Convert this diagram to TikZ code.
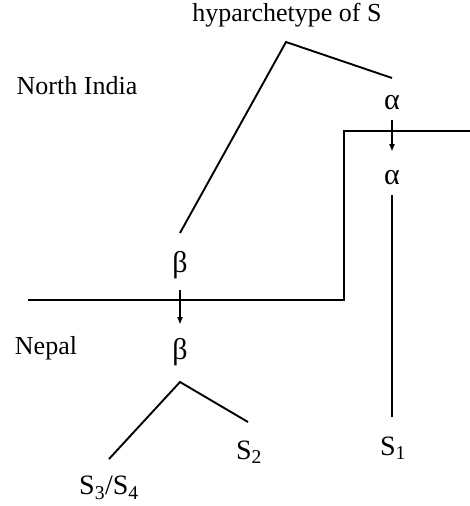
\documentclass[tikz,border=0pt]{standalone}
\usepackage{fontspec}
\setmainfont{Liberation Serif}
\usetikzlibrary{arrows.meta}
\begin{document}
\begin{tikzpicture}[x=1pt,y=-1pt,
  lbl/.style={font=\fontsize{26}{30}\selectfont, inner sep=0pt, anchor=center},
  greek/.style={font=\fontsize{30}{34}\selectfont, inner sep=0pt, anchor=center},
  wit/.style={font=\fontsize{28}{32}\selectfont, inner sep=0pt, anchor=center},
  branch/.style={line width=1.9pt},
  border/.style={line width=2.9pt},
  mig/.style={line width=1.7pt, -{Latex[length=8pt,width=6pt]}}]
\useasboundingbox (0,0) rectangle (470,506);
% labels
\node[lbl] (hyp) at (287,15) {hyparchetype of S};
\node[lbl] (ni) at (77,86) {North India};
\node[lbl] (np) at (46,348) {Nepal};
\node[greek] (a1) at (392,103) {α};
\node[greek] (a2) at (392,178) {α};
\node[greek] (b1) at (180,265) {β};
\node[greek] (b2) at (180,352) {β};
\node[wit] (s1) at (393,448) {S\textsubscript{1}};
\node[wit] (s2) at (249,452) {S\textsubscript{2}};
\node[wit] (s34) at (109,488) {S\textsubscript{3}/S\textsubscript{4}};
% tree coordinates
\coordinate (top) at (286,42);
\coordinate (topR) at (392,78);
\coordinate (topL) at (180,233);
\coordinate (fork) at (180,382);
\coordinate (forkL) at (109,459);
\coordinate (forkR) at (248,422);
\coordinate (a2end) at (392,417);
\coordinate (a2start) at (392,195);
% border line
\coordinate (bL) at (28,300);
\coordinate (bM) at (344,300);
\coordinate (bT) at (344,131);
\coordinate (bR) at (470,131);
\draw[border] (bL) -- (bM) -- (bT) -- (bR);
% branches
\draw[branch] (topL) -- (top) -- (topR);
\draw[branch] (a2start) -- (a2end);
\draw[branch] (forkL) -- (fork) -- (forkR);
% migrations
\draw[mig] (392,120) -- (392,152);
\draw[mig] (180,290) -- (180,325);
\end{tikzpicture}
\end{document}
